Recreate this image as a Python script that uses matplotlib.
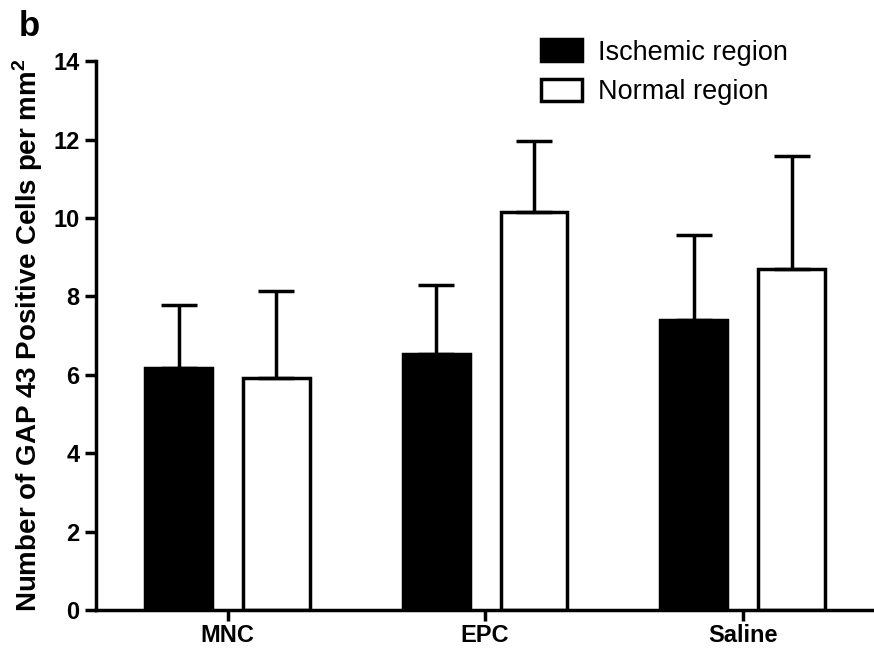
import numpy as np
import matplotlib
matplotlib.use("Agg")
import matplotlib.pyplot as plt

plt.rcParams['font.family'] = ['Liberation Sans', 'DejaVu Sans']
plt.rcParams['mathtext.fontset'] = 'custom'
plt.rcParams['mathtext.rm'] = 'Liberation Sans'
plt.rcParams['mathtext.bf'] = 'Liberation Sans:bold'

# Values
groups = ["MNC", "EPC", "Saline"]
ischemic_mean = [6.18, 6.54, 7.41]
ischemic_err = [1.60, 1.76, 2.15]
normal_mean = [5.93, 10.14, 8.69]
normal_err = [2.20, 1.82, 2.88]
y_ticks = [0, 2, 4, 6, 8, 10, 12, 14]

lw = 2.5
fig = plt.figure(figsize=(8.74, 6.48), dpi=100)
ax = fig.add_axes([0.11, 0.0586, 0.89, 0.847])

x = np.arange(len(groups))
width = 0.26
offset = 0.19
err_kw = dict(elinewidth=lw, capthick=lw, ecolor='black')

ax.bar(x - offset, ischemic_mean, width, color='black', edgecolor='black',
       linewidth=lw, label='Ischemic region',
       yerr=[np.zeros(3), ischemic_err], capsize=13, error_kw=err_kw)
ax.bar(x + offset, normal_mean, width, color='white', edgecolor='black',
       linewidth=lw, label='Normal region',
       yerr=[np.zeros(3), normal_err], capsize=13, error_kw=err_kw)

ax.set_xlim(-0.51, 2.51)
ax.set_ylim(0, 14)
ax.set_yticks(y_ticks)
ax.set_xticks(x)
ax.set_xticklabels(groups, fontsize=17, fontweight='bold')
ax.tick_params(axis='y', labelsize=17, width=lw, length=8, pad=4)
ax.tick_params(axis='x', width=lw, length=8, pad=2)
for t in ax.get_yticklabels():
    t.set_fontweight('bold')

for s in ['top', 'right']:
    ax.spines[s].set_visible(False)
for s in ['left', 'bottom']:
    ax.spines[s].set_linewidth(lw)

ax.set_ylabel(r"Number of GAP 43 Positive Cells per mm$^\mathbf{2}$",
              fontsize=20, fontweight='bold', labelpad=6)

fig.legend(loc='upper left', bbox_to_anchor=(0.604, 0.96), frameon=False,
           fontsize=19.5, handlelength=1.5, handleheight=0.85, handletextpad=0.6,
           labelspacing=0.5, borderpad=0)

fig.text(0.022, 0.945, "b", fontsize=25, fontweight='bold')

fig.savefig("out.png", dpi=100)
